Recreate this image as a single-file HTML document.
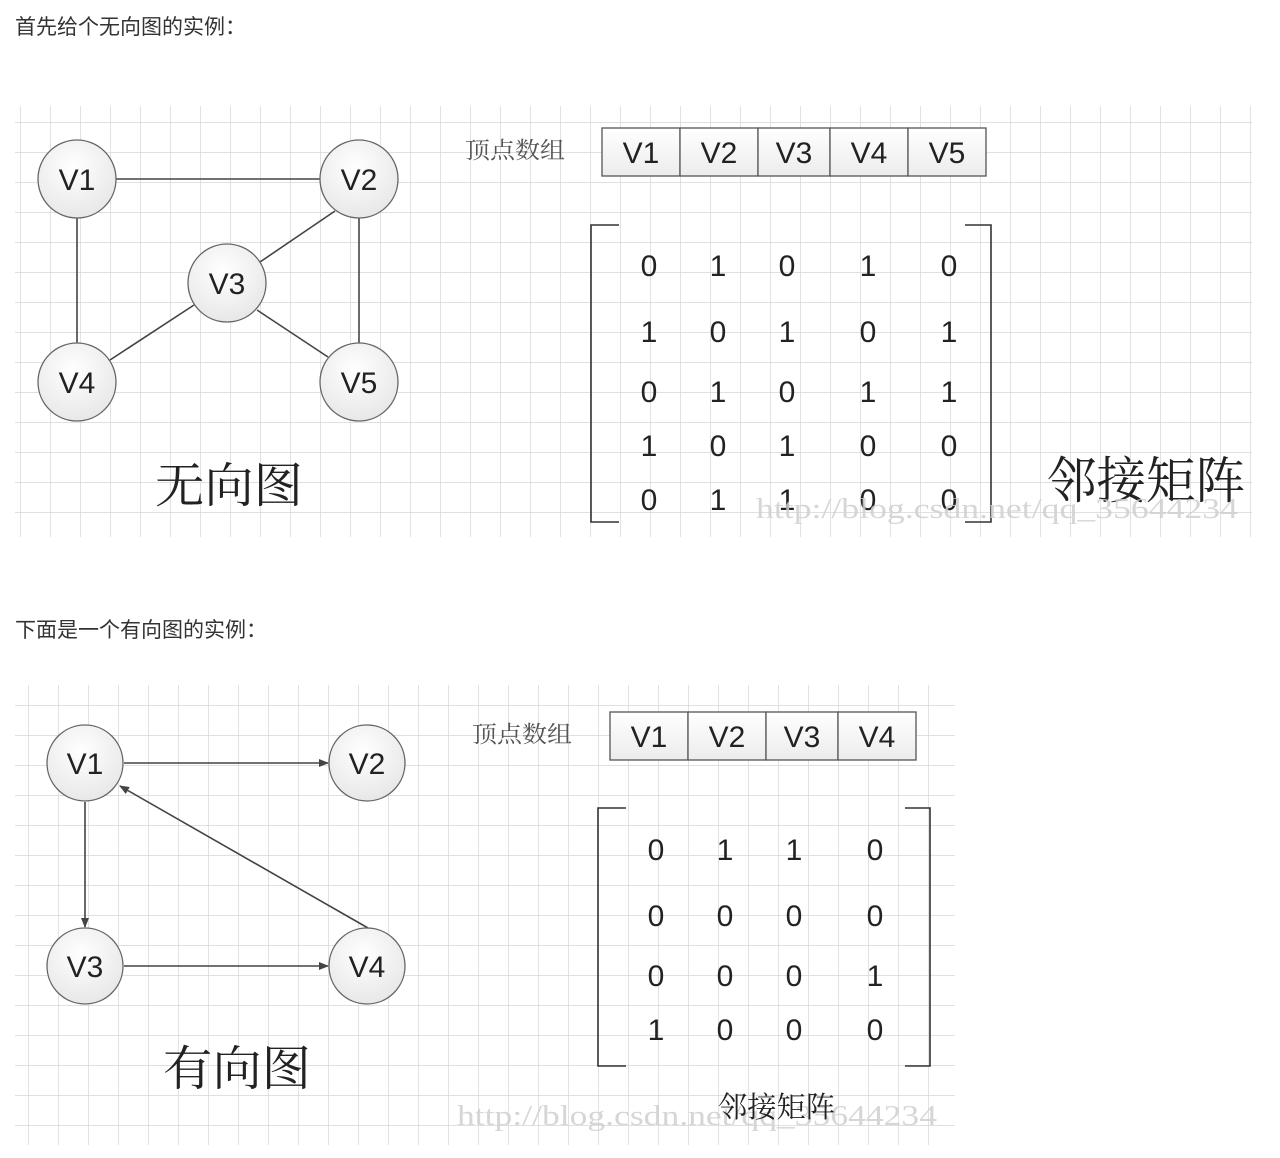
<!DOCTYPE html>
<html><head><meta charset="utf-8"><style>
body{margin:0;background:#fff;width:1280px;height:1158px;overflow:hidden}
svg{display:block}
.s{font-family:"Liberation Sans","Noto Sans CJK SC",sans-serif}
.cj{font-family:"Noto Serif CJK SC","Liberation Serif",serif}
</style></head><body>
<svg width="1280" height="1158" xmlns="http://www.w3.org/2000/svg">
<defs>
<pattern id="g1" x="20" y="122" width="30" height="30" patternUnits="userSpaceOnUse">
<path d="M0 0V30M0 0H30" stroke="#d6d6d6" stroke-width="1.4" fill="none"/></pattern>
<pattern id="g2" x="28" y="705" width="30" height="30" patternUnits="userSpaceOnUse">
<path d="M0 0V30M0 0H30" stroke="#d6d6d6" stroke-width="1.4" fill="none"/></pattern>
<radialGradient id="nd" cx="0.45" cy="0.35" r="0.7"><stop offset="0" stop-color="#ffffff"/><stop offset="1" stop-color="#e6e6e6"/></radialGradient>
<linearGradient id="cell" x1="0" y1="0" x2="0" y2="1"><stop offset="0" stop-color="#ffffff"/><stop offset="1" stop-color="#ececec"/></linearGradient>
<marker id="ar" markerWidth="10" markerHeight="8" refX="9" refY="4" orient="auto" markerUnits="userSpaceOnUse"><path d="M0 0L10 4L0 8Z" fill="#444"/></marker>
</defs>
<text x="15" y="34" class="s" font-size="21" fill="#333">首先给个无向图的实例：</text>
<text x="15" y="637" class="s" font-size="21" fill="#333">下面是一个有向图的实例：</text>

<rect x="15" y="106" width="1237" height="431" fill="url(#g1)"/>
<rect x="15" y="685" width="940" height="460" fill="url(#g2)"/>

<g stroke="#444" stroke-width="1.6">
<line x1="116" y1="179" x2="320" y2="179"/>
<line x1="77" y1="218" x2="77" y2="343"/>
<line x1="359" y1="218" x2="359" y2="343"/>
<line x1="335" y1="211" x2="260" y2="262"/>
<line x1="194" y1="305" x2="110" y2="360"/>
<line x1="257" y1="310" x2="328" y2="357"/>
</g>
<g stroke="#666" stroke-width="1.3" fill="url(#nd)">
<circle cx="77" cy="179" r="39"/><circle cx="359" cy="179" r="39"/>
<circle cx="227" cy="283" r="39"/><circle cx="77" cy="382" r="39"/><circle cx="359" cy="382" r="39"/>
</g>
<g class="s" font-size="30" fill="#222" text-anchor="middle">
<text x="77" y="190">V1</text><text x="359" y="190">V2</text><text x="227" y="294">V3</text><text x="77" y="393">V4</text><text x="359" y="393">V5</text>
</g>
<text x="155" y="502" class="cj" font-size="48" fill="#222" textLength="148" lengthAdjust="spacingAndGlyphs">无向图</text>
<text x="465" y="158" class="cj" font-size="23" fill="#555" textLength="100" lengthAdjust="spacingAndGlyphs">顶点数组</text>
<g stroke="#555" stroke-width="1.3" fill="url(#cell)">
<rect x="602" y="128" width="78" height="48"/><rect x="680" y="128" width="78" height="48"/><rect x="758" y="128" width="72" height="48"/><rect x="830" y="128" width="78" height="48"/><rect x="908" y="128" width="78" height="48"/>
</g>
<g class="s" font-size="30" fill="#222" text-anchor="middle">
<text x="641" y="163">V1</text><text x="719" y="163">V2</text><text x="794" y="163">V3</text><text x="869" y="163">V4</text><text x="947" y="163">V5</text>
</g>
<g stroke="#333" stroke-width="1.6" fill="none">
<path d="M619 225H591V522H619"/><path d="M965 225H991V522H965"/>
</g>
<g class="s" font-size="30" fill="#222" text-anchor="middle">
<text x="649" y="276">0</text><text x="718" y="276">1</text><text x="787" y="276">0</text><text x="868" y="276">1</text><text x="949" y="276">0</text>
<text x="649" y="342">1</text><text x="718" y="342">0</text><text x="787" y="342">1</text><text x="868" y="342">0</text><text x="949" y="342">1</text>
<text x="649" y="402">0</text><text x="718" y="402">1</text><text x="787" y="402">0</text><text x="868" y="402">1</text><text x="949" y="402">1</text>
<text x="649" y="456">1</text><text x="718" y="456">0</text><text x="787" y="456">1</text><text x="868" y="456">0</text><text x="949" y="456">0</text>
<text x="649" y="510">0</text><text x="718" y="510">1</text><text x="787" y="510">1</text><text x="868" y="510">0</text><text x="949" y="510">0</text>
</g>
<text x="1047" y="498" class="cj" font-size="50" fill="#222" textLength="198" lengthAdjust="spacingAndGlyphs">邻接矩阵</text>
<text x="756" y="518" font-family="Liberation Serif,serif" font-size="28" fill="#cfcfcf" opacity="0.85" textLength="482" lengthAdjust="spacingAndGlyphs">http://blog.csdn.net/qq_35644234</text>

<g stroke="#444" stroke-width="1.6" marker-end="url(#ar)">
<line x1="124" y1="763" x2="328" y2="763"/>
<line x1="85" y1="802" x2="85" y2="927"/>
<line x1="124" y1="966" x2="328" y2="966"/>
<line x1="368" y1="928" x2="120" y2="786"/>
</g>
<g stroke="#666" stroke-width="1.3" fill="url(#nd)">
<circle cx="85" cy="763" r="38"/><circle cx="367" cy="763" r="38"/><circle cx="85" cy="966" r="38"/><circle cx="367" cy="966" r="38"/>
</g>
<g class="s" font-size="30" fill="#222" text-anchor="middle">
<text x="85" y="774">V1</text><text x="367" y="774">V2</text><text x="85" y="977">V3</text><text x="367" y="977">V4</text>
</g>
<text x="163" y="1085" class="cj" font-size="48" fill="#222" textLength="148" lengthAdjust="spacingAndGlyphs">有向图</text>
<text x="472" y="742" class="cj" font-size="23" fill="#555" textLength="100" lengthAdjust="spacingAndGlyphs">顶点数组</text>
<g stroke="#555" stroke-width="1.3" fill="url(#cell)">
<rect x="610" y="712" width="78" height="48"/><rect x="688" y="712" width="78" height="48"/><rect x="766" y="712" width="72" height="48"/><rect x="838" y="712" width="78" height="48"/>
</g>
<g class="s" font-size="30" fill="#222" text-anchor="middle">
<text x="649" y="747">V1</text><text x="727" y="747">V2</text><text x="802" y="747">V3</text><text x="877" y="747">V4</text>
</g>
<g stroke="#333" stroke-width="1.6" fill="none">
<path d="M626 808H598V1066H626"/><path d="M905 808H930V1066H905"/>
</g>
<g class="s" font-size="30" fill="#222" text-anchor="middle">
<text x="656" y="860">0</text><text x="725" y="860">1</text><text x="794" y="860">1</text><text x="875" y="860">0</text>
<text x="656" y="926">0</text><text x="725" y="926">0</text><text x="794" y="926">0</text><text x="875" y="926">0</text>
<text x="656" y="986">0</text><text x="725" y="986">0</text><text x="794" y="986">0</text><text x="875" y="986">1</text>
<text x="656" y="1040">1</text><text x="725" y="1040">0</text><text x="794" y="1040">0</text><text x="875" y="1040">0</text>
</g>
<text x="457" y="1125" font-family="Liberation Serif,serif" font-size="28" fill="#cfcfcf" opacity="0.85" textLength="480" lengthAdjust="spacingAndGlyphs">http://blog.csdn.net/qq_35644234</text>
<text x="718" y="1117" class="cj" font-size="29" fill="#222" textLength="117" lengthAdjust="spacingAndGlyphs">邻接矩阵</text>
</svg>
</body></html>
